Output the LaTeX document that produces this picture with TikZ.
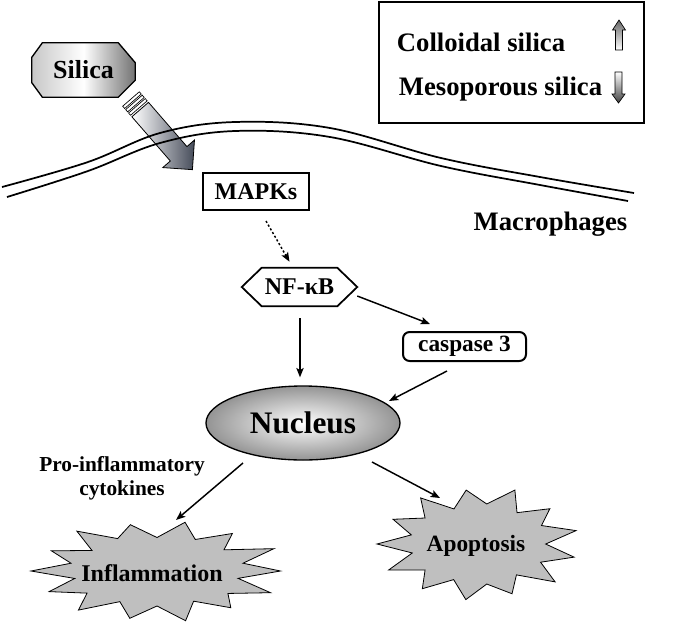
\documentclass[tikz,border=0pt]{standalone}
\usepackage{fontspec}
\setmainfont{Liberation Serif}
\usetikzlibrary{arrows.meta,calc,shapes.geometric,backgrounds}
\definecolor{arrowdark}{RGB}{70,76,90}
\begin{document}
\begin{tikzpicture}[x=0.75pt,y=-0.75pt,
  lbl/.style={inner sep=0pt},
  conn/.style={line width=1.1pt, -{Stealth[length=7pt,width=5.5pt,inset=1.5pt]}},
  burst/.style={draw=black, line width=0.6pt, fill=black!25},
  boxed/.style={draw, line width=1.5pt, inner sep=0pt},
  memb/.style={line width=1.3pt}
]
\useasboundingbox (0,0) rectangle (690,626);

% ---------- text nodes ----------
\node[lbl, font=\bfseries\fontsize{19.5}{22}\selectfont, minimum width=77.25pt, minimum height=40.5pt] (silica) at (83.5,70) {Silica};
\node[draw, line width=1pt, minimum width=198.75pt, minimum height=90.75pt] (legend) at (511.5,62.5) {};
\node[lbl, font=\bfseries\fontsize{20}{22}\selectfont] (coll) at (481,42) {Colloidal silica};
\node[lbl, font=\bfseries\fontsize{20}{22}\selectfont] (meso) at (500.5,89) {Mesoporous silica};
\node[boxed, font=\bfseries\fontsize{18}{20}\selectfont, minimum width=79.5pt, minimum height=27.75pt] (mapk) at (256,191.5) {MAPKs};
\node[lbl, font=\bfseries\fontsize{20}{22}\selectfont] (macro) at (550.5,224) {Macrophages};
\node[lbl, font=\bfseries\fontsize{18}{20}\selectfont, minimum width=56.25pt, minimum height=28.5pt] (nfkb) at (299.5,287) {NF-κB};
\node[boxed, rounded corners=5pt, font=\bfseries\fontsize{17.5}{20}\selectfont, minimum width=92.25pt, minimum height=21.75pt] (casp) at (464.5,346.5) {caspase 3};
\node[ellipse, draw, line width=1pt, inner color=white, outer color=black!42, inner sep=0pt, minimum width=145.5pt, minimum height=55.5pt, font=\bfseries\fontsize{23.5}{26}\selectfont] (nuc) at (303,423) {Nucleus};
\node[lbl, align=center, font=\bfseries\fontsize{16}{18}\selectfont] (cyto) at (122,478) {Pro-inflammatory\\cytokines};
\node[lbl, font=\bfseries\fontsize{18}{20}\selectfont] (infl) at (152,573) {Inflammation};
\node[lbl, font=\bfseries\fontsize{17.5}{20}\selectfont] (apop) at (476,546) {Apoptosis};

% NF-kB hexagon
\draw[line width=1.3pt] ([xshift=-15pt]nfkb.west) -- (nfkb.north west) -- (nfkb.north east) -- ([xshift=15pt]nfkb.east) -- (nfkb.south east) -- (nfkb.south west) -- cycle;

% legend arrows
\path[draw, line width=0.5pt, top color=black!60, bottom color=white] (619,20) -- (625.5,30) -- (622.5,30) -- (622.5,50) -- (615.5,50) -- (615.5,30) -- (612.5,30) -- cycle;
\path[draw, line width=0.5pt, top color=white, bottom color=black!75] (618.5,103) -- (625,94) -- (622,94) -- (622,72) -- (615,72) -- (615,94) -- (612,94) -- cycle;

\begin{pgfonlayer}{background}
  % silica octagon
  \path[draw, line width=1pt, left color=black!22, right color=black!55, middle color=white]
    ([xshift=8pt]silica.north west) -- ([xshift=-12.75pt]silica.north east) -- ([yshift=-15pt]silica.north east)
    -- ([yshift=12.75pt]silica.south east) -- ([xshift=-12.75pt]silica.south east) -- ([xshift=8pt]silica.south west)
    -- ([yshift=11pt]silica.south west) -- ([yshift=-11pt]silica.north west) -- cycle;
  % big arrow
  \begin{scope}[shift={(131,99)}, rotate=-49]
    \path[draw, line width=0.5pt, fill=white] (0,-11) rectangle (3,11);
    \path[draw, line width=0.5pt, fill=white] (4.5,-11) rectangle (7.5,11);
    \path[draw, line width=0.5pt, fill=white] (9,-11) rectangle (12,11);
    \path[draw, line width=0.6pt, left color=white, right color=arrowdark]
      (14,-11) -- (72.6,-11) -- (72.6,-21) -- (93.6,0) -- (72.6,21) -- (72.6,11) -- (14,11) -- cycle;
  \end{scope}
  % starbursts
  \path[burst] ({157-126},571)
    \foreach \r [count=\i] in {0.7,0.93,0.66,1.02,0.72,0.95,0.67,1.0,0.7,0.96,0.68,1.03,0.7,0.98,0.66,1.0,0.72,0.94,0.67,1.02,0.7,0.97,0.68,1.0,0.71,0.95,0.67}
      { -- ({157+126*\r*cos(180+\i*360/28)}, {571+50*\r*sin(180+\i*360/28)}) } -- cycle;
  \path[burst] ({478-101},544)
    \foreach \r [count=\i] in {0.68,0.95,0.7,1.0,0.67,0.97,0.72,1.03,0.68,0.95,0.71,1.0,0.67,0.98,0.7,1.02,0.67,0.95,0.72,1.0,0.68,0.97,0.7,1.0,0.67}
      { -- ({478+101*\r*cos(180+\i*360/26)}, {544+56*\r*sin(180+\i*360/26)}) } -- cycle;
\end{pgfonlayer}

% membrane
\draw[memb] plot[smooth, tension=0.6] coordinates {(2,187) (88,162) (160,133) (235,122) (330,128) (441,158) (540,177) (634,193)};
\draw[memb] plot[smooth, tension=0.6] coordinates {(7,197) (88,171) (160,143) (235,131) (330,137) (441,166) (540,185) (628,201)};

% connectors
\draw[conn, dash pattern=on 1.6pt off 1.6pt] ([shift={(10,10)}]mapk.south) -- ([shift={(-10,-6)}]nfkb.north);
\draw[conn] ([shift={(20,9)}]nfkb.east) -- ([shift={(-34.5,-7)}]casp.north);
\draw[conn] ([shift={(0.5,12)}]nfkb.south) -- ([shift={(-3,-8)}]nuc.north);
\draw[conn] ([shift={(-17.5,9)}]casp.south) -- ([shift={(86,-22)}]nuc.center);
\draw[conn] ([shift={(-60,40)}]nuc.center) -- ([shift={(24,-53)}]infl.center);
\draw[conn] ([shift={(69,39)}]nuc.center) -- ([shift={(-36,-48)}]apop.center);
\end{tikzpicture}
\end{document}
